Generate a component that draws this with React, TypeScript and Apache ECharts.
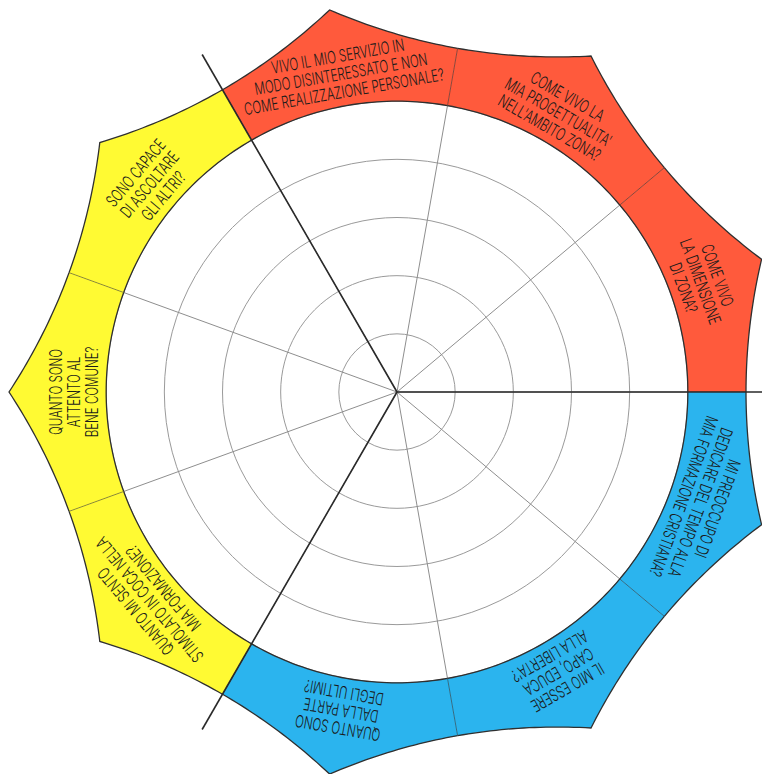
import React, { useEffect, useRef } from "react";
import * as echarts from "echarts";

// ---- data ----
const QUESTIONS: string[][] = [
  ["COME VIVO", "LA DIMENSIONE", "DI ZONA?"],
  ["COME VIVO LA", "MIA PROGETTUALITA'", "NELL'AMBITO ZONA?"],
  ["VIVO IL MIO SERVIZIO IN", "MODO DISINTERESSATO E NON", "COME REALIZZAZIONE PERSONALE?"],
  ["SONO CAPACE", "DI ASCOLTARE", "GLI ALTRI?"],
  ["QUANTO SONO", "ATTENTO AL", "BENE COMUNE?"],
  ["QUANTO MI SENTO", "STIMOLATO IN COCA NELLA", "MIA FORMAZIONE?"],
  ["QUANTO SONO", "DALLA PARTE", "DEGLI ULTIMI?"],
  ["IL MIO ESSERE", "CAPO, EDUCA", "ALLA LIBERTA'?"],
  ["MI PREOCCUPO DI", "DEDICARE DEL TEMPO ALLA", "MIA FORMAZIONE CRISTIANA?"],
];
const SEGMENT_ANGLES = [20, 60, 100, 140, 180, 220, 260, 300, 340];
const SEGMENT_GROUP = ["red", "red", "red", "yellow", "yellow", "yellow", "blue", "blue", "blue"];
const GROUP_COLORS: Record<string, string> = { red: "#FF5A3C", yellow: "#FFFA33", blue: "#2BB4EE" };
const RING_MAX = 6;
const BAND_INNER = 5;
const VERTEX_R = 6.67;
const DIVIDER_ANGLES = [0, 120, 240];
const DIVIDER_LEN = 6.7;

const HALF = 20;
const LABEL_R = 5.55;
const LINE_H = 18;

export default function App() {
  const ref = useRef<HTMLDivElement>(null);
  useEffect(() => {
    if (!ref.current) return;
    const chart = echarts.init(ref.current, undefined, { renderer: "svg" });
    const chordR = VERTEX_R * Math.cos((HALF * Math.PI) / 180);
    const ctrlR = 2 * RING_MAX - chordR;

    const quad = (p0: number[], c: number[], p1: number[], n: number) => {
      const out: number[][] = [];
      for (let k = 0; k <= n; k++) {
        const t = k / n;
        const u = 1 - t;
        out.push([
          u * u * p0[0] + 2 * u * t * c[0] + t * t * p1[0],
          u * u * p0[1] + 2 * u * t * c[1] + t * t * p1[1],
        ]);
      }
      return out;
    };

    const segmentRender = (params: any, api: any) => {
      const i = params.dataIndex;
      const c = api.value(1);
      const a0 = c - HALF;
      const a1 = c + HALF;
      const pt = (r: number, a: number) => api.coord([r, a]);
      const s0 = pt(RING_MAX, a0);
      const s1 = pt(RING_MAX, a1);
      const v = pt(VERTEX_R, c);
      const cp = pt(ctrlR, a0);
      const cn = pt(ctrlR, a1);
      const q1 = [(cp[0] + v[0]) / 2, (cp[1] + v[1]) / 2];
      const q2 = [(cn[0] + v[0]) / 2, (cn[1] + v[1]) / 2];
      const outer = quad(s0, q1, v, 24).concat(quad(v, q2, s1, 24).slice(1));
      const inner: number[][] = [];
      for (let k = 0; k <= 40; k++) inner.push(pt(BAND_INNER, a1 - ((a1 - a0) * k) / 40));
      const fillPts = outer.concat(inner);
      const sIn = pt(BAND_INNER, a0);
      const lc = pt(LABEL_R, c);
      const lines = QUESTIONS[i];
      return {
        type: "group",
        children: [
          { type: "polygon", shape: { points: fillPts }, style: { fill: GROUP_COLORS[SEGMENT_GROUP[i]], stroke: null } },
          { type: "line", shape: { x1: sIn[0], y1: sIn[1], x2: s0[0], y2: s0[1] }, style: { stroke: "rgba(40,40,40,0.55)", lineWidth: 0.9 } },
          { type: "polyline", shape: { points: outer }, style: { fill: null, stroke: "#2f2f2f", lineWidth: 1.3 } },
          { type: "polyline", shape: { points: inner }, style: { fill: null, stroke: "#2f2f2f", lineWidth: 1.3 } },
          {
            type: "text",
            x: lc[0],
            y: lc[1],
            rotation: ((c - 90) * Math.PI) / 180,
            scaleX: 0.68,
            style: {
              text: lines.join("\n"),
              fill: "#1a1a1a",
              fontSize: 17,
              fontWeight: 300,
              fontFamily: "Inter, Roboto, Liberation Sans, sans-serif",
              lineHeight: LINE_H,
              align: "center",
              verticalAlign: "middle",
            },
          },
        ],
      };
    };

    const dividerRender = (params: any, api: any) => {
      const a = api.value(1);
      const p0 = api.coord([0, a]);
      const p1 = api.coord([api.value(0), a]);
      return {
        type: "line",
        shape: { x1: p0[0], y1: p0[1], x2: p1[0], y2: p1[1] },
        style: { stroke: "#2a2a2a", lineWidth: 1.6 },
      };
    };

    chart.setOption({
      animation: false,
      backgroundColor: "#ffffff",
      polar: { center: [397, 392], radius: 349 },
      angleAxis: {
        type: "value",
        min: 0,
        max: 360,
        interval: 40,
        startAngle: 0,
        clockwise: false,
        axisLine: { show: false },
        axisTick: { show: false },
        axisLabel: { show: false },
        splitLine: { show: true, lineStyle: { color: "#8e8e8e", width: 1 } },
      },
      radiusAxis: {
        type: "value",
        min: 0,
        max: RING_MAX,
        interval: 1,
        axisLine: { show: false },
        axisTick: { show: false },
        axisLabel: { show: false },
        splitLine: {
          show: true,
          lineStyle: {
            color: ["#9a9a9a", "#9a9a9a", "#9a9a9a", "#9a9a9a", "#9a9a9a", "#9a9a9a", "rgba(0,0,0,0)"],
            width: 1,
          },
        },
      },
      series: [
        {
          type: "custom",
          coordinateSystem: "polar",
          renderItem: segmentRender,
          data: SEGMENT_ANGLES.map((a) => [RING_MAX, a]),
          z: 2,
        },
        {
          type: "custom",
          coordinateSystem: "polar",
          renderItem: dividerRender,
          data: DIVIDER_ANGLES.map((a) => [DIVIDER_LEN, a]),
          z: 3,
        },
      ],
    });
    return () => chart.dispose();
  }, []);
  return (
    <div
      ref={ref}
      style={{ position: "fixed", left: 0, top: 0, width: 762, height: 774, background: "#fff" }}
    />
  );
}
